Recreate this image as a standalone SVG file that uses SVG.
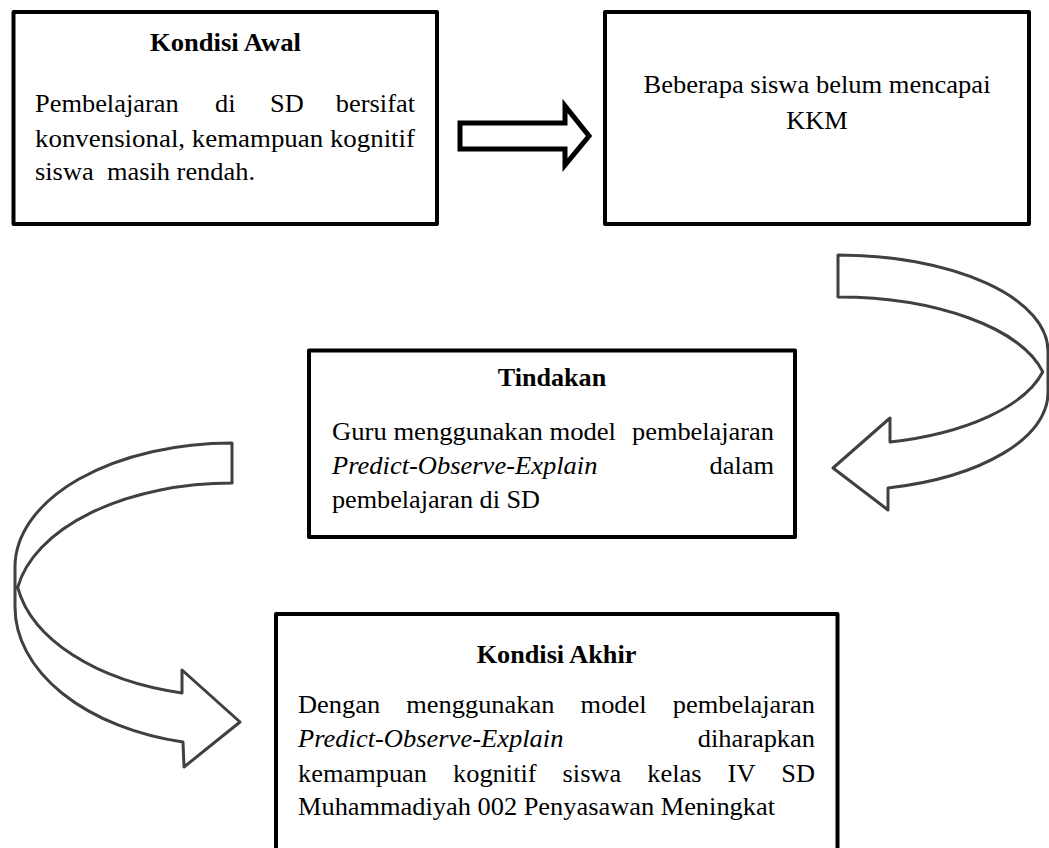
<svg xmlns="http://www.w3.org/2000/svg" width="1049" height="848" viewBox="0 0 1049 848">
<style>
.box{fill:#fff;stroke:#000;stroke-width:4;stroke-linejoin:round}
.b{font-weight:bold}
.i{font-style:italic}
.m{text-anchor:middle}
.e{text-anchor:end}
.carrow{fill:#fff;stroke:#404040;stroke-width:3;stroke-linejoin:round}
.sarrow{fill:#fff;stroke:#000;stroke-width:5;stroke-linejoin:miter}
</style>
<rect width="1049" height="848" fill="#fff"/>
<g id="connectors">
<path id="arrow-awal-beberapa" class="sarrow" d="M460,123 L565,123 L565,106 L589,136 L565,165 L565,149 L460,149 Z"/>
<path id="arrow-beberapa-tindakan" class="carrow" d="M838,255 A210,96 0 0 1 1048,351 L1048,393 A210,98 0 0 1 888,488 L888,510 L833,468 L890,418 L890,442 A210,94 0 0 0 1042.8,371.8 A210,96 0 0 0 838,297 Z"/>
<path id="arrow-tindakan-akhir" class="carrow" d="M232,443 A217,124 0 0 0 15,567 L15,607 A217,138.6 0 0 0 183,742 L184,767 L240,722 L182,670 L182,693 A217,129.4 0 0 1 17.7,587.4 A217,124 0 0 1 232,483 Z"/>
</g>
<g id="kondisi-awal" font-family="'Liberation Serif', 'Times New Roman', serif" font-size="25" fill="#000">
<rect class="box" x="13.5" y="12" width="423.5" height="212"/>
<text class="b m" x="225.5" y="51" textLength="151" lengthAdjust="spacingAndGlyphs">Kondisi Awal</text>
<text x="35" y="112" textLength="143.7" lengthAdjust="spacingAndGlyphs">Pembelajaran</text>
<text x="215" y="112" textLength="20.5" lengthAdjust="spacingAndGlyphs">di</text>
<text x="270" y="112" textLength="33.7" lengthAdjust="spacingAndGlyphs">SD</text>
<text class="e" x="415" y="112" textLength="79.2" lengthAdjust="spacingAndGlyphs">bersifat</text>
<text x="35" y="146.5" textLength="380" lengthAdjust="spacingAndGlyphs">konvensional, kemampuan kognitif</text>
<text x="35" y="180" textLength="58.7" lengthAdjust="spacingAndGlyphs">siswa</text>
<text x="107" y="180" textLength="148" lengthAdjust="spacingAndGlyphs">masih rendah.</text>
</g>
<g id="beberapa-siswa" font-family="'Liberation Serif', 'Times New Roman', serif" font-size="25" fill="#000">
<rect class="box" x="605" y="12" width="424" height="212"/>
<text class="m" x="817" y="93" textLength="347" lengthAdjust="spacingAndGlyphs">Beberapa siswa belum mencapai</text>
<text class="m" x="817" y="129" textLength="61.6" lengthAdjust="spacingAndGlyphs">KKM</text>
</g>
<g id="tindakan" font-family="'Liberation Serif', 'Times New Roman', serif" font-size="25" fill="#000">
<rect class="box" x="309" y="350.5" width="486" height="186.5"/>
<text class="b m" x="552" y="386" textLength="108.4" lengthAdjust="spacingAndGlyphs">Tindakan</text>
<text x="332" y="439.5" textLength="284" lengthAdjust="spacingAndGlyphs">Guru menggunakan model</text>
<text class="e" x="774" y="439.5" textLength="142" lengthAdjust="spacingAndGlyphs">pembelajaran</text>
<text class="i" x="332" y="473.5" textLength="265.4" lengthAdjust="spacingAndGlyphs">Predict-Observe-Explain</text>
<text class="e" x="774" y="473.5" textLength="64.5" lengthAdjust="spacingAndGlyphs">dalam</text>
<text x="332" y="508" textLength="208" lengthAdjust="spacingAndGlyphs">pembelajaran di SD</text>
</g>
<g id="kondisi-akhir" font-family="'Liberation Serif', 'Times New Roman', serif" font-size="25" fill="#000">
<rect class="box" x="276" y="614" width="561.5" height="260"/>
<text class="b m" x="556.5" y="663" textLength="159.7" lengthAdjust="spacingAndGlyphs">Kondisi Akhir</text>
<text x="298" y="713" textLength="82.1" lengthAdjust="spacingAndGlyphs">Dengan</text>
<text x="406.3" y="713" textLength="148.1" lengthAdjust="spacingAndGlyphs">menggunakan</text>
<text x="580.6" y="713" textLength="66" lengthAdjust="spacingAndGlyphs">model</text>
<text class="e" x="815" y="713" textLength="142.2" lengthAdjust="spacingAndGlyphs">pembelajaran</text>
<text class="i" x="298" y="747" textLength="265.4" lengthAdjust="spacingAndGlyphs">Predict-Observe-Explain</text>
<text class="e" x="815" y="747" textLength="117.3" lengthAdjust="spacingAndGlyphs">diharapkan</text>
<text x="298" y="781.5" textLength="129" lengthAdjust="spacingAndGlyphs">kemampuan</text>
<text x="453" y="781.5" textLength="83.6" lengthAdjust="spacingAndGlyphs">kognitif</text>
<text x="562.6" y="781.5" textLength="58.7" lengthAdjust="spacingAndGlyphs">siswa</text>
<text x="647.3" y="781.5" textLength="54.3" lengthAdjust="spacingAndGlyphs">kelas</text>
<text x="727.6" y="781.5" textLength="27.9" lengthAdjust="spacingAndGlyphs">IV</text>
<text class="e" x="815" y="781.5" textLength="33.7" lengthAdjust="spacingAndGlyphs">SD</text>
<text x="298" y="815" textLength="477" lengthAdjust="spacingAndGlyphs">Muhammadiyah 002 Penyasawan Meningkat</text>
</g>
</svg>
